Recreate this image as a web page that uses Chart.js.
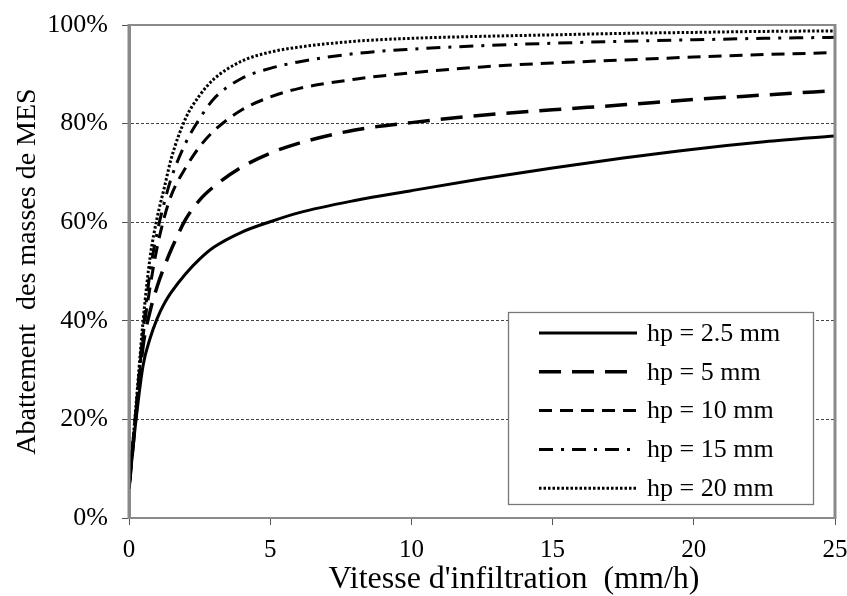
<!DOCTYPE html>
<html>
<head>
<meta charset="utf-8">
<script src="https://cdn.jsdelivr.net/npm/chart.js@4/dist/chart.umd.min.js"></script>
<style>
  body { margin: 0; background: #fff; }
  #wrap { width: 847px; height: 596px; position: relative; }
</style>
</head>
<body>
<div id="wrap"><canvas id="chart"></canvas></div>
<script>
// vitesse d'infiltration (mm/h)
const vitesses = [0, 0.25, 0.5, 0.75, 1, 1.25, 1.5, 2, 2.5, 3, 4, 5, 6, 8, 10, 12.5, 15, 17.5, 20, 22.5, 25];

// abattement (%) pour chaque hauteur de pluie
const hp25 = [6, 20, 31, 36.5, 40.5, 43.5, 45.8, 49.5, 52.5, 54.9, 58, 60.1, 61.9, 64.4, 66.4, 68.8, 71, 73, 74.8, 76.3, 77.5];
const hp5  = [6, 21, 35, 42, 47, 51, 54.5, 60.5, 64.5, 67.2, 71.2, 74, 76, 78.7, 80.2, 81.7, 82.8, 83.8, 84.9, 85.8, 86.7];
const hp10 = [6, 22, 37, 47, 55, 61, 65.5, 71, 75.3, 78.5, 82.8, 85.4, 87.1, 89, 90.3, 91.5, 92.3, 92.9, 93.5, 94, 94.4];
const hp15 = [6, 22, 38, 50, 58, 64, 69, 76, 81, 85, 89.2, 91.2, 92.5, 94.2, 95.1, 95.8, 96.3, 96.7, 97, 97.3, 97.5];
const hp20 = [6, 23, 40, 53, 61, 67, 73, 81, 85.7, 89, 92.7, 94.5, 95.5, 96.7, 97.3, 97.7, 98, 98.3, 98.5, 98.7, 98.8];

const etiquettes = ['hp = 2.5 mm', 'hp = 5 mm', 'hp = 10 mm', 'hp = 15 mm', 'hp = 20 mm'];
const series = [hp25, hp5, hp10, hp15, hp20];

// styles de trait
const styles = [
    { borderDash: [], borderWidth: 3 },
    { borderDash: [22, 11], borderWidth: 3.5 },
    { borderDash: [13, 8], borderWidth: 3 },
    { borderDash: [14, 8, 3, 8], borderWidth: 3 },
    { borderDash: [2.5, 2], borderWidth: 3 }
];

const serif = 'Liberation Serif';

const datasets = series.map((vals, i) => ({
    label: etiquettes[i],
    data: vals.map((v, j) => ({ x: vitesses[j], y: v })),
    borderColor: '#000',
    borderWidth: styles[i].borderWidth,
    borderDash: styles[i].borderDash,
    borderCapStyle: 'butt',
    pointRadius: 0,
    fill: false,
    cubicInterpolationMode: 'monotone'
}));

// cadre gris autour de la zone de tracé
const cadre = {
    id: 'cadre',
    afterDatasetsDraw(chart) {
        const { ctx, chartArea: a } = chart;
        ctx.save();
        ctx.strokeStyle = '#8a8a8a';
        ctx.lineWidth = 2;
        ctx.beginPath();
        ctx.moveTo(a.left, a.top);
        ctx.lineTo(a.right, a.top);
        ctx.moveTo(a.left, a.bottom);
        ctx.lineTo(a.right, a.bottom);
        ctx.stroke();
        ctx.lineWidth = 3;
        ctx.beginPath();
        ctx.moveTo(a.left, a.top - 1);
        ctx.lineTo(a.left, a.bottom + 1);
        ctx.moveTo(a.right, a.top - 1);
        ctx.lineTo(a.right, a.bottom + 1);
        ctx.stroke();
        ctx.restore();
    }
};

// légende dans un cadre en bas à droite
const legende = {
    id: 'legende',
    afterDraw(chart) {
        const { ctx, chartArea: a } = chart;
        const w = 305, h = 192;
        const x0 = a.right - 22 - w;
        const y0 = a.bottom - 14 - h;
        ctx.save();
        ctx.fillStyle = '#fff';
        ctx.fillRect(x0, y0, w, h);
        ctx.strokeStyle = '#777';
        ctx.lineWidth = 1.3;
        ctx.strokeRect(x0 + 0.5, y0 + 0.5, w, h);
        ctx.font = '26px "' + serif + '"';
        ctx.textBaseline = 'middle';
        ctx.fillStyle = '#000';
        chart.data.datasets.forEach((ds, i) => {
            const y = y0 + 21 + i * 38.8;
            ctx.strokeStyle = '#000';
            ctx.lineWidth = ds.borderWidth;
            ctx.lineCap = 'butt';
            ctx.setLineDash(ds.borderDash);
            ctx.beginPath();
            ctx.moveTo(x0 + 31, y);
            ctx.lineTo(x0 + 129, y);
            ctx.stroke();
            ctx.setLineDash([]);
            ctx.fillText(ds.label, x0 + 139, y + 1);
        });
        ctx.restore();
    }
};

new Chart(document.getElementById('chart'), {
    type: 'line',
    data: { datasets: datasets },
    options: {
        responsive: true,
        maintainAspectRatio: false,
        animation: false,
        layout: { padding: { top: 25, right: 12, left: 0, bottom: 0 } },
        plugins: {
            legend: { display: false },
            tooltip: { enabled: false }
        },
        scales: {
            x: {
                type: 'linear',
                min: 0,
                max: 25,
                ticks: {
                    stepSize: 5,
                    color: '#000',
                    padding: 10,
                    maxRotation: 0,
                    font: { family: serif, size: 25 }
                },
                grid: {
                    drawOnChartArea: false,
                    tickLength: 7,
                    tickColor: '#555'
                },
                border: { color: '#8a8a8a', width: 2 },
                title: {
                    display: true,
                    // espaces en tête pour décaler le titre vers la droite
                    text: "        Vitesse d'infiltration  (mm/h)",
                    color: '#000',
                    font: { family: serif, size: 32, lineHeight: 1 },
                    padding: { top: 0, bottom: 0 }
                },
                afterFit: (scale) => {
                    scale.height = 78;
                    scale.paddingLeft = 0;
                    scale.paddingRight = 0;
                }
            },
            y: {
                min: 0,
                max: 100,
                ticks: {
                    stepSize: 20,
                    color: '#000',
                    padding: 14,
                    font: { family: serif, size: 26 },
                    callback: (v) => v + '%'
                },
                grid: {
                    color: '#444',
                    tickLength: 7,
                    tickColor: '#555',
                    tickBorderDash: []
                },
                border: { color: '#8a8a8a', width: 3, dash: [3, 2] },
                title: {
                    display: true,
                    text: 'Abattement  des masses de MES',
                    color: '#000',
                    font: { family: serif, size: 28, lineHeight: 1 },
                    padding: { top: 14, bottom: 0 }
                },
                afterFit: (scale) => {
                    scale.width = 129;
                    scale.paddingTop = 0;
                    scale.paddingBottom = 0;
                }
            }
        }
    },
    plugins: [cadre, legende]
});
</script>
</body>
</html>
